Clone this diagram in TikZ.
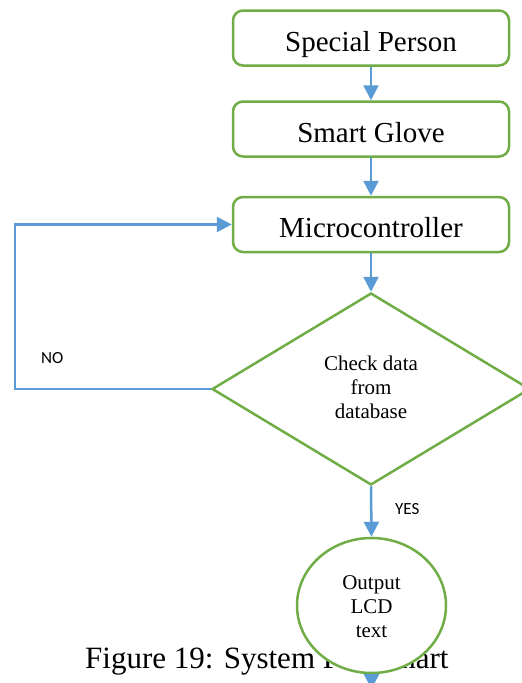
\documentclass[tikz,border=0pt]{standalone}
\usepackage{fontspec}
\setmainfont{Liberation Serif}
\newfontfamily\calib{Carlito}
\usetikzlibrary{shapes.geometric,arrows.meta}
\definecolor{grn}{RGB}{112,173,71}
\definecolor{blu}{RGB}{91,155,213}
\begin{document}
\begin{tikzpicture}[x=1pt,y=-1pt,
  stepbox/.style={draw=grn,line width=2.5pt,rounded corners=10pt,fill=white,
    minimum width=276pt,minimum height=55pt,inner sep=0pt,
    text height=26pt,text depth=0pt,font=\fontsize{29}{33}\selectfont},
  decide/.style={draw=grn,line width=2.5pt,shape=diamond,fill=white,
    minimum width=318pt,minimum height=192pt,inner sep=0pt,aspect=1.65},
  outbox/.style={draw=grn,line width=2.5pt,shape=ellipse,fill=white,
    minimum width=149pt,minimum height=135pt,inner sep=0pt},
  smalltxt/.style={font=\fontsize{21}{24}\selectfont,align=center},
  lbl/.style={font=\calib\fontsize{17}{20}\selectfont,anchor=base west,inner sep=0pt},
  flow/.style={draw=blu,line width=2.5pt,-{Triangle[length=15pt,width=15pt]}}
]
\useasboundingbox (0,0) rectangle (522,683);
\clip (0,0) rectangle (522,683);
\node[stepbox] (sp) at (371,38) {Special Person};
\node[stepbox] (sg) at (371,129) {Smart Glove};
\node[stepbox] (mc) at (371,224.5) {Microcontroller};
\node[decide] (chk) at (371,389) {};
\node[smalltxt] (chkt) at (371,387) {Check data\\from\\database};
\node[font=\fontsize{31}{35}\selectfont,anchor=base west,inner sep=0pt] (cap) at (85,668) {Figure 19: System Flowchart};
\node[outbox] (out) at (371.5,605.5) {};
\node[smalltxt] (outt) at (371.5,607) {Output\\LCD\\text};
\coordinate (nl) at (15,389);
\coordinate (nt) at (15,224.5);
\coordinate (endp) at (371.5,689);
\draw[flow] (sp.south) -- (sg.north);
\draw[flow] (sg.south) -- (mc.north);
\draw[flow] (mc.south) -- (chk.north);
\draw[flow] (chk.west) -- (nl) -- (nt) -- (mc.west);
\draw[flow] (chk.south) -- (out.north);
\draw[flow] (out.south) -- (endp);
\node[lbl] (no) at (41,363) {NO};
\node[lbl] (yes) at (395,514) {YES};
\end{tikzpicture}
\end{document}
